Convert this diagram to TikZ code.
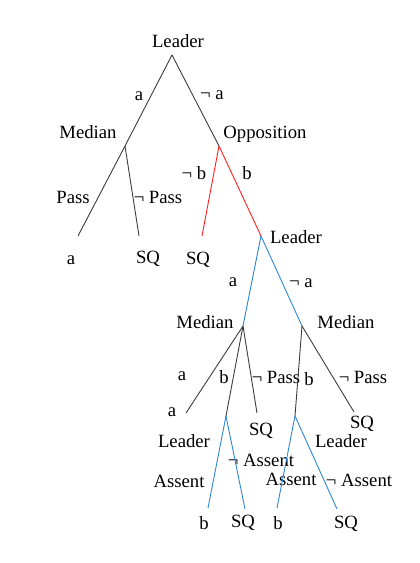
\documentclass[tikz,border=0pt]{standalone}
\usepackage{fontspec}
\setmainfont{Liberation Serif}
\usetikzlibrary{positioning}

\definecolor{edgegray}{RGB}{60,60,60}
\definecolor{edgered}{RGB}{255,30,30}
\definecolor{edgeblue}{RGB}{45,135,215}

\tikzset{
  lbl/.style={inner sep=0pt, font=\fontsize{18.7}{22}\selectfont},
  gedge/.style={draw=edgegray, line width=0.9pt},
  redge/.style={draw=edgered, line width=0.9pt},
  bedge/.style={draw=edgeblue, line width=0.9pt}
}

\begin{document}
\begin{tikzpicture}[x=1pt,y=-1pt]

  \useasboundingbox (0,0) rectangle (420,563);

  % decision points
  \coordinate (leader_1) at (172,55);
  \coordinate (median_1) at (125,146);
  \coordinate (oppos) at (219,146);
  \coordinate (leader_2) at (261,236);
  \coordinate (median_2) at (243,326);
  \coordinate (median_3) at (302,326);
  \coordinate (leader_3) at (226,416);
  \coordinate (leader_4) at (295,416);

  % ends of branches
  \coordinate (end_a1) at (78,236);
  \coordinate (end_sq1) at (139,236);
  \coordinate (end_sq2) at (202,236);
  \coordinate (end_a2) at (186,413);
  \coordinate (end_sq3) at (257,413);
  \coordinate (end_sq4) at (354,412);
  \coordinate (end_b1) at (208,508);
  \coordinate (end_sq5) at (245,509);
  \coordinate (end_b2) at (277,508);
  \coordinate (end_sq6) at (337,509);

  %==================================================

  \node[lbl] (l_leader_1) at (178,41) {Leader};
  \node[lbl] (l_median_1) at (88,132) {Median};
  \node[lbl] (l_oppos) at (265,134) {Opposition};
  \node[lbl] (l_leader_2) at (296,237) {Leader};
  \node[lbl] (l_median_2) at (205,322) {Median};
  \node[lbl] (l_median_3) at (346,322) {Median};
  \node[lbl] (l_leader_3) at (184,441) {Leader};
  \node[lbl] (l_leader_4) at (341,441) {Leader};

  \node[lbl] (o_a1) at (71,260) {a};
  \node[lbl] (o_sq1) at (148,259) {SQ};
  \node[lbl] (o_sq2) at (198,260) {SQ};
  \node[lbl] (o_a2) at (172,412) {a};
  \node[lbl] (o_sq3) at (261,431) {SQ};
  \node[lbl] (o_sq4) at (362,424) {SQ};
  \node[lbl] (o_b1) at (204,523) {b};
  \node[lbl] (o_sq5) at (243,523) {SQ};
  \node[lbl] (o_b2) at (278,523) {b};
  \node[lbl] (o_sq6) at (346,524) {SQ};

  %==================================================

  \node[lbl] (m_a1) at (139,96) {a};
  \node[lbl] (m_na1) at (212,95) {¬ a};
  \node[lbl] (m_pass1) at (73,197) {Pass};
  \node[lbl] (m_npass1) at (158,197) {¬ Pass};
  \node[lbl] (m_nb1) at (194,173) {¬ b};
  \node[lbl] (m_b1) at (247,173) {b};
  \node[lbl] (m_a2) at (233,282) {a};
  \node[lbl] (m_na2) at (301,283) {¬ a};
  \node[lbl] (m_a3) at (182,376) {a};
  \node[lbl] (m_b2) at (224,377) {b};
  \node[lbl] (m_npass2) at (276,377) {¬ Pass};
  \node[lbl] (m_b3) at (309,379) {b};
  \node[lbl] (m_npass3) at (363,377) {¬ Pass};
  \node[lbl] (m_assent1) at (179,481) {Assent};
  \node[lbl] (m_nassent1) at (261,460) {¬ Assent};
  \node[lbl] (m_assent2) at (291,479) {Assent};
  \node[lbl] (m_nassent2) at (359,480) {¬ Assent};

  %==================================================

  \draw[gedge] (leader_1) -- (median_1);
  \draw[gedge] (leader_1) -- (oppos);
  \draw[gedge] (median_1) -- (end_a1);
  \draw[gedge] (median_1) -- (end_sq1);

  \draw[redge] (oppos) -- (end_sq2);
  \draw[redge] (oppos) -- (leader_2);

  \draw[bedge] (leader_2) -- (median_2);
  \draw[bedge] (leader_2) -- (median_3);

  \draw[gedge] (median_2) -- (end_a2);
  \draw[gedge] (median_2) -- (leader_3);
  \draw[gedge] (median_2) -- (end_sq3);
  \draw[gedge] (median_3) -- (leader_4);
  \draw[gedge] (median_3) -- (end_sq4);

  \draw[bedge] (leader_3) -- (end_b1);
  \draw[bedge] (leader_3) -- (end_sq5);
  \draw[bedge] (leader_4) -- (end_b2);
  \draw[bedge] (leader_4) -- (end_sq6);

\end{tikzpicture}
\end{document}
